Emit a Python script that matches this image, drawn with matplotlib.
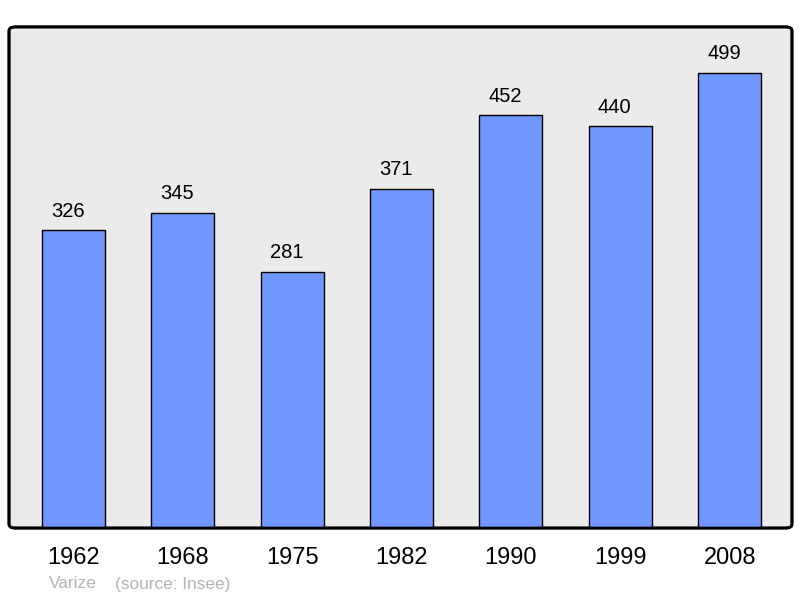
import matplotlib.pyplot as plt
from matplotlib.patches import FancyBboxPatch

plt.rcParams['font.family'] = ['Liberation Sans', 'DejaVu Sans']

years = ['1962', '1968', '1975', '1982', '1990', '1999', '2008']
population = [326, 345, 281, 371, 452, 440, 499]

fig = plt.figure(figsize=(8, 5.98), dpi=100)
ax = fig.add_axes([0.01125, 0.117, 0.97875, 0.838])
ax.set_facecolor('none')

x = range(len(years))
ax.bar(x, population, width=0.576, color='#7096ff', edgecolor='black', linewidth=1.0, zorder=2)
for i, v in zip(x, population):
    ax.annotate(str(v), (i, v), xytext=(-4, 10), textcoords='offset points',
                ha='center', va='baseline', fontsize=14.5)

ax.set_xlim(-0.59, 6.57)
ax.set_ylim(0, 549)
ax.set_xticks(list(x))
ax.set_xticklabels(years, fontsize=17)
ax.tick_params(axis='x', length=0, pad=14)
ax.set_yticks([])
for s in ax.spines.values():
    s.set_visible(False)

# rounded frame with grey background
frame = FancyBboxPatch((0, 0), 1, 1, boxstyle='round,pad=0,rounding_size=0.008',
                       transform=ax.transAxes, facecolor='#ebebeb', edgecolor='black',
                       linewidth=2, zorder=0, clip_on=False)
ax.add_patch(frame)
frame2 = FancyBboxPatch((0, 0), 1, 1, boxstyle='round,pad=0,rounding_size=0.008',
                        transform=ax.transAxes, facecolor='none', edgecolor='black',
                        linewidth=2, zorder=3, clip_on=False)
ax.add_patch(frame2)

fig.text(49 / 800, 1 - 584 / 598, 'Varize', color='#b3b3b3',
         fontsize=12.4, ha='left', va='center')
fig.text(115 / 800, 1 - 584 / 598, '(source: Insee)', color='#b3b3b3',
         fontsize=12.4, ha='left', va='center')

fig.savefig('out.png', dpi=100)
